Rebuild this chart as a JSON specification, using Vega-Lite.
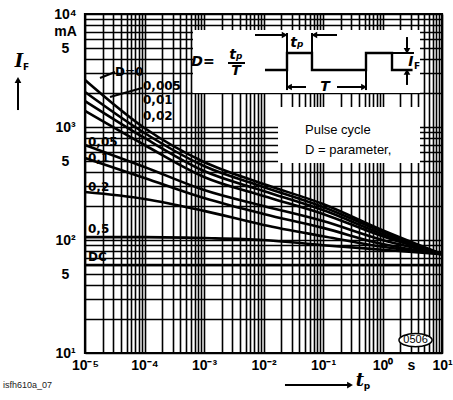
{
 "$schema": "https://vega.github.io/schema/vega-lite/v6.json",
 "width": 357, "height": 339,
 "autosize": "none",
 "padding": {"left": 85, "top": 14, "right": 11, "bottom": 47},
 "background": "white",
 "config": {"view": {"stroke": "#000", "strokeWidth": 2.2}},
 "datasets": {
  "boxes": [{"t":0.000653,"t2":4.27,"I":7211,"I2":2000},{"t":0.01754,"t2":4.27,"I":1503,"I2":480}],
  "curves": [
   {"D":"0","t":0.00001,"I":2606},{"D":"0","t":0.0001,"I":979},{"D":"0","t":0.001,"I":490},{"D":"0","t":0.01,"I":313},{"D":"0","t":0.1,"I":208},{"D":"0","t":1,"I":122},{"D":"0","t":10,"I":75},
   {"D":"0.005","t":0.00001,"I":2042},{"D":"0.005","t":0.0001,"I":885},{"D":"0.005","t":0.001,"I":452},{"D":"0.005","t":0.01,"I":295},{"D":"0.005","t":0.1,"I":196},{"D":"0.005","t":1,"I":118},{"D":"0.005","t":10,"I":75},
   {"D":"0.01","t":0.00001,"I":1698},{"D":"0.01","t":0.0001,"I":800},{"D":"0.01","t":0.001,"I":408},{"D":"0.01","t":0.01,"I":272},{"D":"0.01","t":0.1,"I":184},{"D":"0.01","t":1,"I":113},{"D":"0.01","t":10,"I":75},
   {"D":"0.02","t":0.00001,"I":1387},{"D":"0.02","t":0.0001,"I":693},{"D":"0.02","t":0.001,"I":361},{"D":"0.02","t":0.01,"I":245},{"D":"0.02","t":0.1,"I":170},{"D":"0.02","t":1,"I":108},{"D":"0.02","t":10,"I":75},
   {"D":"0.05","t":0.00001,"I":693},{"D":"0.05","t":0.0001,"I":443},{"D":"0.05","t":0.001,"I":277},{"D":"0.05","t":0.01,"I":200},{"D":"0.05","t":0.1,"I":147},{"D":"0.05","t":1,"I":100},{"D":"0.05","t":10,"I":75},
   {"D":"0.1","t":0.00001,"I":532},{"D":"0.1","t":0.0001,"I":354},{"D":"0.1","t":0.001,"I":235},{"D":"0.1","t":0.01,"I":170},{"D":"0.1","t":0.1,"I":128},{"D":"0.1","t":1,"I":92},{"D":"0.1","t":10,"I":75},
   {"D":"0.2","t":0.00001,"I":266},{"D":"0.2","t":0.0001,"I":231},{"D":"0.2","t":0.001,"I":181},{"D":"0.2","t":0.01,"I":136},{"D":"0.2","t":0.1,"I":108},{"D":"0.2","t":1,"I":87},{"D":"0.2","t":10,"I":75},
   {"D":"0.5","t":0.00001,"I":106},{"D":"0.5","t":0.0001,"I":106},{"D":"0.5","t":0.001,"I":104},{"D":"0.5","t":0.01,"I":100},{"D":"0.5","t":0.1,"I":90},{"D":"0.5","t":1,"I":82},{"D":"0.5","t":10,"I":75},
   {"D":"DC","t":0.00001,"I":60},{"D":"DC","t":10,"I":60}
  ],
  "labels": [
   {"txt":"D=0","t":0.0000319,"I":3070},
   {"txt":"0,005","t":0.0000944,"I":2290},
   {"txt":"0,01","t":0.0000944,"I":1734},
   {"txt":"0,02","t":0.0000944,"I":1250},
   {"txt":"0,05","t":0.00001122,"I":735},
   {"txt":"0,1","t":0.00001122,"I":535},
   {"txt":"0,2","t":0.00001122,"I":295},
   {"txt":"0,5","t":0.00001122,"I":125},
   {"txt":"DC","t":0.00001122,"I":70.8}
  ],
  "segs": [
   {"t":0.02483,"t2":0.02483,"I":6792,"I2":2123},
   {"t":0.0653,"t2":0.0653,"I":6792,"I2":4519},
   {"t":0.528,"t2":0.528,"I":4519,"I2":2123},
   {"t":1.445,"t2":3.381,"I":4519,"I2":4519},
   {"t":0.00719,"t2":0.0221,"I":6516,"I2":6516},
   {"t":0.0734,"t2":0.172,"I":6516,"I2":6516},
   {"t":0.0279,"t2":0.0518,"I":2259,"I2":2259},
   {"t":0.172,"t2":0.47,"I":2259,"I2":2259},
   {"t":2.582,"t2":2.582,"I":6252,"I2":4800},
   {"t":2.582,"t2":2.582,"I":2356,"I2":3009},
   {"t":0.00253,"t2":0.00489,"I":3683,"I2":3683},
   {"t":0.00001786,"t2":0.0000319,"I":2717,"I2":3070},
   {"t":0.0000263,"t2":0.0000908,"I":1841,"I2":2213},
   {"t":0.000000748,"t2":0.000000748,"I":1413,"I2":2450},
   {"t":0.02296,"t2":0.27,"I":5.2,"I2":5.2}
  ],
  "heads": [
   {"t":0.0227,"I":6516,"dir":"r"},{"t":0.0713,"I":6516,"dir":"l"},
   {"t":0.0268,"I":2259,"dir":"l"},{"t":0.489,"I":2259,"dir":"r"},
   {"t":2.582,"I":4710,"dir":"d"},{"t":2.582,"I":3070,"dir":"u"},
   {"t":0.000000748,"I":2606,"dir":"u"},{"t":0.2845,"I":5.2,"dir":"r"}
  ],
  "wave": [
   {"t":0.01059,"I":3192,"k":1},{"t":0.02483,"I":3192,"k":2},{"t":0.02483,"I":4519,"k":3},{"t":0.0653,"I":4519,"k":4},{"t":0.0653,"I":3192,"k":5},{"t":0.528,"I":3192,"k":6},{"t":0.528,"I":4519,"k":7},{"t":1.445,"I":4519,"k":8},{"t":1.445,"I":3192,"k":9},{"t":3.2,"I":3192,"k":10}
  ],
  "diag": [
   {"txt":"D=","t":0.00096,"I":3758},{"txt":"tₚ","t":0.00345,"I":4335},{"txt":"T","t":0.00345,"I":3150},
   {"txt":"tₚ","t":0.0366,"I":5534},{"txt":"T","t":0.108,"I":2259},{"txt":"I","t":3.01,"I":3758}
  ],
  "big": [{"txt":"I","t":0.000000778,"I":3758},{"txt":"t","t":0.419,"I":5.65}],
  "subs": [{"txt":"F","t":0.00000102,"I":3396},{"txt":"p","t":0.548,"I":5.1},{"txt":"F","t":3.8,"I":3467}],
  "notes": [{"txt":"Pulse cycle","t":0.0498,"I":940},{"txt":"D = parameter,","t":0.0498,"I":625}],
  "oval": [{"t":3.59,"I":13.0,"txt":"0506"}],
  "foot": [{"txt":"isfh610a_07","t":0.000000419,"I":5.2}]
 },
 "layer": [
  {
   "data": {"name": "boxes"},
   "mark": {"type": "rect", "fill": "white"},
   "encoding": {
    "x": {"field": "t", "type": "quantitative", "title": null,
     "scale": {"type": "log", "domain": [0.00001, 10], "nice": false},
     "axis": {
      "values": [0.00001,0.00002,0.00003,0.00004,0.00005,0.00006,0.00007,0.00008,0.00009,0.0001,0.0002,0.0003,0.0004,0.0005,0.0006,0.0007,0.0008,0.0009,0.001,0.002,0.003,0.004,0.005,0.006,0.007,0.008,0.009,0.01,0.02,0.03,0.04,0.05,0.06,0.07,0.08,0.09,0.1,0.2,0.3,0.4,0.5,0.6,0.7,0.8,0.9,1,2,3,4,5,6,7,8,9,10],
      "labelExpr": "datum.value == 3 ? 's' : datum.value == 0.00001 ? '10⁻⁵' : datum.value == 0.0001 ? '10⁻⁴' : datum.value == 0.001 ? '10⁻³' : datum.value == 0.01 ? '10⁻²' : datum.value == 0.1 ? '10⁻¹' : datum.value == 1 ? '10⁰' : datum.value == 10 ? '10¹' : ''",
      "grid": true, "gridColor": "#000", "gridWidth": 1.6, "gridOpacity": 1,
      "ticks": false, "domain": false,
      "labelFont": "Liberation Sans", "labelFontSize": 14, "labelFontWeight": "bold", "labelColor": "#000",
      "labelPadding": 5, "labelDx": 4, "labelFlush": false, "labelOverlap": false, "labelBound": false,
      "title": null
     }
    },
    "x2": {"field": "t2"},
    "y": {"field": "I", "type": "quantitative", "title": null,
     "scale": {"type": "log", "domain": [10, 10000], "nice": false},
     "axis": {
      "values": [10,20,30,40,50,60,70,80,90,100,200,300,400,500,600,700,800,900,1000,2000,3000,4000,5000,6000,7000,8000,9000,10000],
      "labelExpr": "datum.value == 10 ? '10¹' : datum.value == 100 ? '10²' : datum.value == 1000 ? '10³' : datum.value == 10000 ? '10⁴' : (datum.value == 50 || datum.value == 500 || datum.value == 5000) ? '5' : datum.value == 7000 ? 'mA' : ''",
      "grid": true, "gridColor": "#000", "gridWidth": 1.6, "gridOpacity": 1,
      "ticks": false, "domain": false,
      "labelFont": "Liberation Sans", "labelFontSize": 14, "labelFontWeight": "bold", "labelColor": "#000",
      "labelAlign": "center", "labelBaseline": "middle", "labelPadding": 20,
      "labelFlush": false, "labelOverlap": false, "labelBound": false,
      "title": null
     }
    },
    "y2": {"field": "I2"}
   }
  },
  {
   "data": {"name": "curves"},
   "mark": {"type": "line", "color": "#000", "strokeWidth": 2.6, "interpolate": "monotone"},
   "encoding": {
    "x": {"field": "t", "type": "quantitative", "title": null},
    "y": {"field": "I", "type": "quantitative", "title": null},
    "detail": {"field": "D", "type": "nominal"}
   }
  },
  {
   "data": {"name": "labels"},
   "mark": {"type": "text", "font": "DejaVu Sans", "fontSize": 12, "fontWeight": "bold", "align": "left", "baseline": "middle", "color": "#000"},
   "encoding": {
    "x": {"field": "t", "type": "quantitative", "title": null},
    "y": {"field": "I", "type": "quantitative", "title": null},
    "text": {"field": "txt"}
   }
  },
  {
   "data": {"name": "segs"},
   "mark": {"type": "rule", "color": "#000", "strokeWidth": 2, "clip": false},
   "encoding": {
    "x": {"field": "t", "type": "quantitative", "title": null},
    "x2": {"field": "t2"},
    "y": {"field": "I", "type": "quantitative", "title": null},
    "y2": {"field": "I2"}
   }
  },
  {
   "data": {"name": "wave"},
   "mark": {"type": "line", "color": "#000", "strokeWidth": 2.4, "interpolate": "linear"},
   "encoding": {
    "x": {"field": "t", "type": "quantitative", "title": null},
    "y": {"field": "I", "type": "quantitative", "title": null},
    "order": {"field": "k", "type": "quantitative"}
   }
  },
  {
   "data": {"name": "heads"},
   "mark": {"type": "point", "filled": true, "color": "#000", "size": 45, "opacity": 1, "clip": false},
   "encoding": {
    "x": {"field": "t", "type": "quantitative", "title": null},
    "y": {"field": "I", "type": "quantitative", "title": null},
    "shape": {"field": "dir", "type": "nominal", "legend": null,
     "scale": {"domain": ["r", "l", "u", "d"], "range": ["triangle-right", "triangle-left", "triangle-up", "triangle-down"]}}
   }
  },
  {
   "data": {"name": "diag"},
   "mark": {"type": "text", "font": "DejaVu Sans", "fontSize": 14, "fontWeight": "bold", "fontStyle": "italic", "align": "center", "baseline": "middle", "color": "#000"},
   "encoding": {
    "x": {"field": "t", "type": "quantitative", "title": null},
    "y": {"field": "I", "type": "quantitative", "title": null},
    "text": {"field": "txt"}
   }
  },
  {
   "data": {"name": "big"},
   "mark": {"type": "text", "font": "DejaVu Serif", "fontSize": 18, "fontWeight": "bold", "fontStyle": "italic", "align": "center", "baseline": "middle", "color": "#000", "clip": false},
   "encoding": {
    "x": {"field": "t", "type": "quantitative", "title": null},
    "y": {"field": "I", "type": "quantitative", "title": null},
    "text": {"field": "txt"}
   }
  },
  {
   "data": {"name": "subs"},
   "mark": {"type": "text", "font": "DejaVu Sans", "fontSize": 9, "fontWeight": "bold", "align": "center", "baseline": "middle", "color": "#000", "clip": false},
   "encoding": {
    "x": {"field": "t", "type": "quantitative", "title": null},
    "y": {"field": "I", "type": "quantitative", "title": null},
    "text": {"field": "txt"}
   }
  },
  {
   "data": {"name": "notes"},
   "mark": {"type": "text", "font": "Liberation Sans", "fontSize": 13, "align": "left", "baseline": "middle", "color": "#000"},
   "encoding": {
    "x": {"field": "t", "type": "quantitative", "title": null},
    "y": {"field": "I", "type": "quantitative", "title": null},
    "text": {"field": "txt"}
   }
  },
  {
   "data": {"name": "oval"},
   "mark": {"type": "point", "shape": "M-1,0A1,0.4,0,1,0,1,0A1,0.4,0,1,0,-1,0Z", "size": 1100, "filled": true, "fill": "white", "stroke": "#000", "strokeWidth": 1.5, "opacity": 1},
   "encoding": {
    "x": {"field": "t", "type": "quantitative", "title": null},
    "y": {"field": "I", "type": "quantitative", "title": null}
   }
  },
  {
   "data": {"name": "oval"},
   "mark": {"type": "text", "font": "Liberation Sans", "fontSize": 11, "align": "center", "baseline": "middle", "color": "#000"},
   "encoding": {
    "x": {"field": "t", "type": "quantitative", "title": null},
    "y": {"field": "I", "type": "quantitative", "title": null},
    "text": {"field": "txt"}
   }
  },
  {
   "data": {"name": "foot"},
   "mark": {"type": "text", "font": "Liberation Sans", "fontSize": 9, "align": "left", "baseline": "middle", "color": "#222", "clip": false},
   "encoding": {
    "x": {"field": "t", "type": "quantitative", "title": null},
    "y": {"field": "I", "type": "quantitative", "title": null},
    "text": {"field": "txt"}
   }
  }
 ]
}
